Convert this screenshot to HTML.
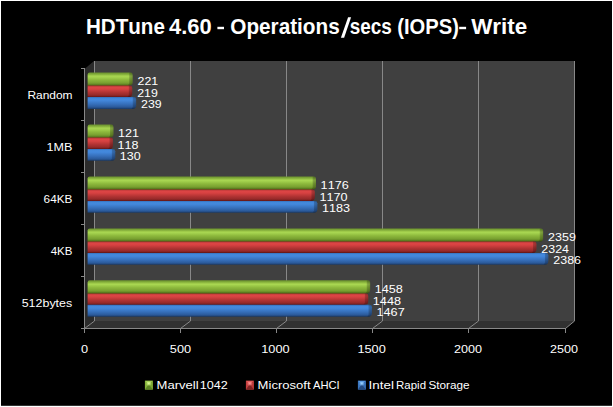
<!DOCTYPE html>
<html><head><meta charset="utf-8"><title>HDTune 4.60 - Operations/secs (IOPS)- Write</title>
<style>html,body{margin:0;padding:0;background:#000;overflow:hidden}svg{display:block}text{font-family:"Liberation Sans",sans-serif;fill:#fff;font-kerning:none;white-space:pre}</style>
</head><body>
<svg width="613" height="407" viewBox="0 0 613 407">
<defs>
<linearGradient id="g" x1="0" y1="0" x2="0" y2="1"><stop offset="0" stop-color="#6c922e"/><stop offset="0.12" stop-color="#7ea838"/><stop offset="0.22" stop-color="#9cc848"/><stop offset="0.32" stop-color="#a8d651"/><stop offset="0.55" stop-color="#8eba3d"/><stop offset="0.8" stop-color="#78a030"/><stop offset="0.9" stop-color="#658826"/><stop offset="1" stop-color="#41600f"/></linearGradient>
<linearGradient id="r" x1="0" y1="0" x2="0" y2="1"><stop offset="0" stop-color="#b03434"/><stop offset="0.15" stop-color="#dc4545"/><stop offset="0.3" stop-color="#d84242"/><stop offset="0.6" stop-color="#b13333"/><stop offset="0.82" stop-color="#982a2a"/><stop offset="0.92" stop-color="#822222"/><stop offset="1" stop-color="#5c1414"/></linearGradient>
<linearGradient id="b" x1="0" y1="0" x2="0" y2="1"><stop offset="0" stop-color="#3470bc"/><stop offset="0.15" stop-color="#448ade"/><stop offset="0.3" stop-color="#4286da"/><stop offset="0.6" stop-color="#366fba"/><stop offset="0.82" stop-color="#2c5c9e"/><stop offset="0.92" stop-color="#244c84"/><stop offset="1" stop-color="#183762"/></linearGradient>
<linearGradient id="sh" x1="0" y1="0" x2="1" y2="0"><stop offset="0" stop-color="#000" stop-opacity="0.05"/><stop offset="0.35" stop-color="#000" stop-opacity="0.2"/><stop offset="1" stop-color="#000" stop-opacity="0.3"/></linearGradient>
</defs>
<rect x="0" y="0" width="613" height="407" fill="#fff"/>
<rect x="1" y="1" width="611" height="404.8" fill="#000"/>
<polygon points="84.5,69 94,61 94,321 84.5,328.5" fill="#2b2b2b"/>
<rect x="94" y="61" width="481" height="260" fill="#404040"/>
<polygon points="84.5,328.5 94,321 575,321 565.5,328.5" fill="#313131"/>
<line x1="94.5" y1="61" x2="94.5" y2="321" stroke="#888" stroke-width="1"/>
<line x1="94.5" y1="321" x2="84.5" y2="328.5" stroke="#888" stroke-width="1"/>
<line x1="84.5" y1="328" x2="84.5" y2="333" stroke="#888" stroke-width="1"/>
<line x1="190.5" y1="61" x2="190.5" y2="321" stroke="#888" stroke-width="1"/>
<line x1="190.5" y1="321" x2="180.5" y2="328.5" stroke="#888" stroke-width="1"/>
<line x1="180.5" y1="328" x2="180.5" y2="333" stroke="#888" stroke-width="1"/>
<line x1="286.5" y1="61" x2="286.5" y2="321" stroke="#888" stroke-width="1"/>
<line x1="286.5" y1="321" x2="276.5" y2="328.5" stroke="#888" stroke-width="1"/>
<line x1="276.5" y1="328" x2="276.5" y2="333" stroke="#888" stroke-width="1"/>
<line x1="382.5" y1="61" x2="382.5" y2="321" stroke="#888" stroke-width="1"/>
<line x1="382.5" y1="321" x2="372.5" y2="328.5" stroke="#888" stroke-width="1"/>
<line x1="372.5" y1="328" x2="372.5" y2="333" stroke="#888" stroke-width="1"/>
<line x1="478.5" y1="61" x2="478.5" y2="321" stroke="#888" stroke-width="1"/>
<line x1="478.5" y1="321" x2="468.5" y2="328.5" stroke="#888" stroke-width="1"/>
<line x1="468.5" y1="328" x2="468.5" y2="333" stroke="#888" stroke-width="1"/>
<line x1="574.5" y1="61" x2="574.5" y2="321" stroke="#888" stroke-width="1"/>
<line x1="574.5" y1="321" x2="565.5" y2="328.5" stroke="#888" stroke-width="1"/>
<line x1="565.5" y1="328" x2="565.5" y2="333" stroke="#888" stroke-width="1"/>
<line x1="84.5" y1="68" x2="84.5" y2="329" stroke="#888" stroke-width="1"/>
<line x1="84" y1="328.5" x2="566" y2="328.5" stroke="#888" stroke-width="1"/>
<line x1="81" y1="68.5" x2="85" y2="68.5" stroke="#888" stroke-width="1"/>
<line x1="81" y1="120.5" x2="85" y2="120.5" stroke="#888" stroke-width="1"/>
<line x1="81" y1="172.5" x2="85" y2="172.5" stroke="#888" stroke-width="1"/>
<line x1="81" y1="224.5" x2="85" y2="224.5" stroke="#888" stroke-width="1"/>
<line x1="81" y1="276.5" x2="85" y2="276.5" stroke="#888" stroke-width="1"/>
<line x1="81" y1="328.5" x2="85" y2="328.5" stroke="#888" stroke-width="1"/>
<rect x="87.6" y="84.6" width="41.0" height="1.6" fill="#41600f"/>
<path d="M87.6,74.7Q87.6,72.5 89.8,72.5H130.2Q132.6,72.5 132.6,74.9V82.0Q132.6,85.6 129.0,85.6H87.6Z" fill="url(#g)"/>
<path d="M129.2,72.5H130.2Q132.6,72.5 132.6,74.9V82.0Q132.6,85.6 129.0,85.6H127.6L129.2,83.6Z" fill="url(#sh)"/>
<rect x="87.6" y="96.0" width="41.0" height="1.6" fill="#5c1414"/>
<path d="M87.6,85.6H129.8Q132.2,85.6 132.2,88.0V93.4Q132.2,97.0 128.6,97.0H87.6Z" fill="url(#r)"/>
<path d="M128.8,85.6H129.8Q132.2,85.6 132.2,88.0V93.4Q132.2,97.0 128.6,97.0H127.2L128.8,95.0Z" fill="url(#sh)"/>
<path d="M87.6,97.0H133.7Q136.1,97.0 136.1,99.4V105.3Q136.1,108.9 132.5,108.9H87.6Z" fill="url(#b)"/>
<path d="M132.7,97.0H133.7Q136.1,97.0 136.1,99.4V105.3Q136.1,108.9 132.5,108.9H131.1L132.7,106.9Z" fill="url(#sh)"/>
<text x="137.61" y="85.3" font-size="11.8" textLength="20.63" lengthAdjust="spacingAndGlyphs">221</text>
<text x="137.23" y="96.9" font-size="11.8" textLength="20.61" lengthAdjust="spacingAndGlyphs">219</text>
<text x="141.07" y="108.1" font-size="11.8" textLength="20.61" lengthAdjust="spacingAndGlyphs">239</text>
<text x="27.42" y="98.9" font-size="11.8" textLength="45.17" lengthAdjust="spacingAndGlyphs">Random</text>
<rect x="87.6" y="136.6" width="21.7" height="1.6" fill="#41600f"/>
<path d="M87.6,126.7Q87.6,124.5 89.8,124.5H111.0Q113.4,124.5 113.4,126.9V134.0Q113.4,137.6 109.8,137.6H87.6Z" fill="url(#g)"/>
<path d="M110.0,124.5H111.0Q113.4,124.5 113.4,126.9V134.0Q113.4,137.6 109.8,137.6H108.4L110.0,135.6Z" fill="url(#sh)"/>
<rect x="87.6" y="148.0" width="21.7" height="1.6" fill="#5c1414"/>
<path d="M87.6,137.6H110.5Q112.9,137.6 112.9,140.0V145.4Q112.9,149.0 109.3,149.0H87.6Z" fill="url(#r)"/>
<path d="M109.5,137.6H110.5Q112.9,137.6 112.9,140.0V145.4Q112.9,149.0 109.3,149.0H107.9L109.5,147.0Z" fill="url(#sh)"/>
<path d="M87.6,148.9H112.8Q115.2,148.9 115.2,151.3V157.2Q115.2,160.8 111.6,160.8H87.6Z" fill="url(#b)"/>
<path d="M111.8,148.9H112.8Q115.2,148.9 115.2,151.3V157.2Q115.2,160.8 111.6,160.8H110.2L111.8,158.8Z" fill="url(#sh)"/>
<text x="118.07" y="137.2" font-size="11.8" textLength="20.97" lengthAdjust="spacingAndGlyphs">121</text>
<text x="117.50" y="148.8" font-size="11.8" textLength="20.90" lengthAdjust="spacingAndGlyphs">118</text>
<text x="119.81" y="160.1" font-size="11.8" textLength="20.84" lengthAdjust="spacingAndGlyphs">130</text>
<text x="46.64" y="150.6" font-size="11.8" textLength="25.82" lengthAdjust="spacingAndGlyphs">1MB</text>
<rect x="87.6" y="188.5" width="223.6" height="1.6" fill="#41600f"/>
<path d="M87.6,178.6Q87.6,176.4 89.8,176.4H313.6Q316.0,176.4 316.0,178.8V185.9Q316.0,189.5 312.4,189.5H87.6Z" fill="url(#g)"/>
<path d="M312.6,176.4H313.6Q316.0,176.4 316.0,178.8V185.9Q316.0,189.5 312.4,189.5H311.0L312.6,187.5Z" fill="url(#sh)"/>
<rect x="87.6" y="199.9" width="223.6" height="1.6" fill="#5c1414"/>
<path d="M87.6,189.5H312.4Q314.8,189.5 314.8,191.9V197.3Q314.8,200.9 311.2,200.9H87.6Z" fill="url(#r)"/>
<path d="M311.4,189.5H312.4Q314.8,189.5 314.8,191.9V197.3Q314.8,200.9 311.2,200.9H309.8L311.4,198.9Z" fill="url(#sh)"/>
<path d="M87.6,200.9H314.9Q317.3,200.9 317.3,203.3V209.2Q317.3,212.8 313.7,212.8H87.6Z" fill="url(#b)"/>
<path d="M313.9,200.9H314.9Q317.3,200.9 317.3,203.3V209.2Q317.3,212.8 313.7,212.8H312.3L313.9,210.8Z" fill="url(#sh)"/>
<text x="320.63" y="189.2" font-size="11.8" textLength="28.12" lengthAdjust="spacingAndGlyphs">1176</text>
<text x="319.48" y="200.8" font-size="11.8" textLength="28.05" lengthAdjust="spacingAndGlyphs">1170</text>
<text x="321.97" y="212.0" font-size="11.8" textLength="28.12" lengthAdjust="spacingAndGlyphs">1183</text>
<text x="43.60" y="202.9" font-size="11.8" textLength="28.82" lengthAdjust="spacingAndGlyphs">64KB</text>
<rect x="87.6" y="240.5" width="445.2" height="1.6" fill="#41600f"/>
<path d="M87.6,230.6Q87.6,228.4 89.8,228.4H540.7Q543.1,228.4 543.1,230.8V237.9Q543.1,241.5 539.5,241.5H87.6Z" fill="url(#g)"/>
<path d="M539.7,228.4H540.7Q543.1,228.4 543.1,230.8V237.9Q543.1,241.5 539.5,241.5H538.1L539.7,239.5Z" fill="url(#sh)"/>
<rect x="87.6" y="251.9" width="445.2" height="1.6" fill="#5c1414"/>
<path d="M87.6,241.5H534.0Q536.4,241.5 536.4,243.9V249.3Q536.4,252.9 532.8,252.9H87.6Z" fill="url(#r)"/>
<path d="M533.0,241.5H534.0Q536.4,241.5 536.4,243.9V249.3Q536.4,252.9 532.8,252.9H531.4L533.0,250.9Z" fill="url(#sh)"/>
<path d="M87.6,252.9H545.9Q548.3,252.9 548.3,255.3V261.1Q548.3,264.8 544.7,264.8H87.6Z" fill="url(#b)"/>
<path d="M544.9,252.9H545.9Q548.3,252.9 548.3,255.3V261.1Q548.3,264.8 544.7,264.8H543.3L544.9,262.8Z" fill="url(#sh)"/>
<text x="548.10" y="241.2" font-size="11.8" textLength="27.82" lengthAdjust="spacingAndGlyphs">2359</text>
<text x="541.38" y="252.8" font-size="11.8" textLength="27.59" lengthAdjust="spacingAndGlyphs">2324</text>
<text x="553.28" y="264.0" font-size="11.8" textLength="27.78" lengthAdjust="spacingAndGlyphs">2386</text>
<text x="50.74" y="254.6" font-size="11.8" textLength="21.67" lengthAdjust="spacingAndGlyphs">4KB</text>
<rect x="87.6" y="292.4" width="277.0" height="1.6" fill="#41600f"/>
<path d="M87.6,282.5Q87.6,280.3 89.8,280.3H367.7Q370.1,280.3 370.1,282.7V289.8Q370.1,293.4 366.5,293.4H87.6Z" fill="url(#g)"/>
<path d="M366.7,280.3H367.7Q370.1,280.3 370.1,282.7V289.8Q370.1,293.4 366.5,293.4H365.1L366.7,291.4Z" fill="url(#sh)"/>
<rect x="87.6" y="303.8" width="277.0" height="1.6" fill="#5c1414"/>
<path d="M87.6,293.4H365.8Q368.2,293.4 368.2,295.8V301.2Q368.2,304.8 364.6,304.8H87.6Z" fill="url(#r)"/>
<path d="M364.8,293.4H365.8Q368.2,293.4 368.2,295.8V301.2Q368.2,304.8 364.6,304.8H363.2L364.8,302.8Z" fill="url(#sh)"/>
<path d="M87.6,304.8H369.5Q371.9,304.8 371.9,307.2V313.1Q371.9,316.7 368.3,316.7H87.6Z" fill="url(#b)"/>
<path d="M368.5,304.8H369.5Q371.9,304.8 371.9,307.2V313.1Q371.9,316.7 368.3,316.7H366.9L368.5,314.7Z" fill="url(#sh)"/>
<text x="374.77" y="293.1" font-size="11.8" textLength="28.11" lengthAdjust="spacingAndGlyphs">1458</text>
<text x="372.85" y="304.7" font-size="11.8" textLength="28.11" lengthAdjust="spacingAndGlyphs">1448</text>
<text x="376.50" y="315.9" font-size="11.8" textLength="28.20" lengthAdjust="spacingAndGlyphs">1467</text>
<text x="21.70" y="306.8" font-size="11.8" textLength="50.55" lengthAdjust="spacingAndGlyphs">512bytes</text>
<text x="81.00" y="353.2" font-size="11.8" textLength="7.10" lengthAdjust="spacingAndGlyphs">0</text>
<text x="169.79" y="353.2" font-size="11.8" textLength="21.31" lengthAdjust="spacingAndGlyphs">500</text>
<text x="261.23" y="353.2" font-size="11.8" textLength="28.37" lengthAdjust="spacingAndGlyphs">1000</text>
<text x="357.43" y="353.2" font-size="11.8" textLength="28.37" lengthAdjust="spacingAndGlyphs">1500</text>
<text x="454.07" y="353.2" font-size="11.8" textLength="28.03" lengthAdjust="spacingAndGlyphs">2000</text>
<text x="549.97" y="353.2" font-size="11.8" textLength="28.03" lengthAdjust="spacingAndGlyphs">2500</text>
<text x="85.92" y="34.0" font-size="21.9" font-weight="bold" textLength="78.98" lengthAdjust="spacingAndGlyphs">HDTune</text>
<text x="168.97" y="34.0" font-size="21.9" font-weight="bold" textLength="42.63" lengthAdjust="spacingAndGlyphs">4.60</text>
<text x="230.25" y="34.0" font-size="21.9" font-weight="bold" textLength="109.50" lengthAdjust="spacingAndGlyphs">Operations</text>
<text x="349.74" y="34.0" font-size="21.9" font-weight="bold" textLength="42.04" lengthAdjust="spacingAndGlyphs">secs</text>
<text x="397.30" y="34.0" font-size="21.9" font-weight="bold" textLength="61.61" lengthAdjust="spacingAndGlyphs">(IOPS)</text>
<text x="471.18" y="34.0" font-size="21.9" font-weight="bold" textLength="56.09" lengthAdjust="spacingAndGlyphs">Write</text>
<rect x="217.4" y="26.8" width="6.6" height="2.4" fill="#fff"/>
<rect x="459.2" y="26.8" width="6.9" height="2.4" fill="#fff"/>
<polygon points="348.1,17.3 351.1,17.3 344.1,37.7 340.9,37.7" fill="#fff"/>
<linearGradient id="m0" x1="0" y1="0" x2="0" y2="1"><stop offset="0" stop-color="#93c244"/><stop offset="1" stop-color="#dcfb96"/></linearGradient>
<rect x="144.9" y="380.8" width="7.9" height="8.8" fill="#86b23a"/>
<polygon points="144.9,380.8 152.8,380.8 148.85,384.3" fill="url(#m0)"/>
<polygon points="152.8,380.8 152.8,389.6 148.85,384.3" fill="#7ca834"/>
<polygon points="144.9,389.6 152.8,389.6 148.85,384.3" fill="#5c8424"/>
<radialGradient id="h0"><stop offset="0" stop-color="#dcfb96" stop-opacity="0.95"/><stop offset="0.5" stop-color="#dcfb96" stop-opacity="0.5"/><stop offset="1" stop-color="#dcfb96" stop-opacity="0"/></radialGradient>
<ellipse cx="148.85" cy="383.7" rx="3" ry="2.4" fill="url(#h0)"/>
<text x="156.53" y="389.4" font-size="11.8" textLength="42.04" lengthAdjust="spacingAndGlyphs">Marvell</text>
<text x="199.74" y="389.4" font-size="11.8" textLength="27.99" lengthAdjust="spacingAndGlyphs">1042</text>
<linearGradient id="m1" x1="0" y1="0" x2="0" y2="1"><stop offset="0" stop-color="#d84a4a"/><stop offset="1" stop-color="#ff9494"/></linearGradient>
<rect x="245.9" y="380.8" width="7.9" height="8.8" fill="#c43e3e"/>
<polygon points="245.9,380.8 253.8,380.8 249.85,384.3" fill="url(#m1)"/>
<polygon points="253.8,380.8 253.8,389.6 249.85,384.3" fill="#b83838"/>
<polygon points="245.9,389.6 253.8,389.6 249.85,384.3" fill="#802424"/>
<radialGradient id="h1"><stop offset="0" stop-color="#ff9494" stop-opacity="0.95"/><stop offset="0.5" stop-color="#ff9494" stop-opacity="0.5"/><stop offset="1" stop-color="#ff9494" stop-opacity="0"/></radialGradient>
<ellipse cx="249.85" cy="383.7" rx="3" ry="2.4" fill="url(#h1)"/>
<text x="257.63" y="389.4" font-size="11.8" textLength="52.97" lengthAdjust="spacingAndGlyphs">Microsoft</text>
<text x="312.98" y="389.4" font-size="11.8" textLength="26.76" lengthAdjust="spacingAndGlyphs">AHCI</text>
<linearGradient id="m2" x1="0" y1="0" x2="0" y2="1"><stop offset="0" stop-color="#468ada"/><stop offset="1" stop-color="#9ad2ff"/></linearGradient>
<rect x="357.9" y="380.8" width="7.9" height="8.8" fill="#3a76c0"/>
<polygon points="357.9,380.8 365.79999999999995,380.8 361.84999999999997,384.3" fill="url(#m2)"/>
<polygon points="365.79999999999995,380.8 365.79999999999995,389.6 361.84999999999997,384.3" fill="#366eb4"/>
<polygon points="357.9,389.6 365.79999999999995,389.6 361.84999999999997,384.3" fill="#244a80"/>
<radialGradient id="h2"><stop offset="0" stop-color="#9ad2ff" stop-opacity="0.95"/><stop offset="0.5" stop-color="#9ad2ff" stop-opacity="0.5"/><stop offset="1" stop-color="#9ad2ff" stop-opacity="0"/></radialGradient>
<ellipse cx="361.84999999999997" cy="383.7" rx="3" ry="2.4" fill="url(#h2)"/>
<text x="368.56" y="389.4" font-size="11.8" textLength="25.33" lengthAdjust="spacingAndGlyphs">Intel</text>
<text x="396.06" y="389.4" font-size="11.8" textLength="29.98" lengthAdjust="spacingAndGlyphs">Rapid</text>
<text x="428.47" y="389.4" font-size="11.8" textLength="41.16" lengthAdjust="spacingAndGlyphs">Storage</text>
</svg></body></html>
